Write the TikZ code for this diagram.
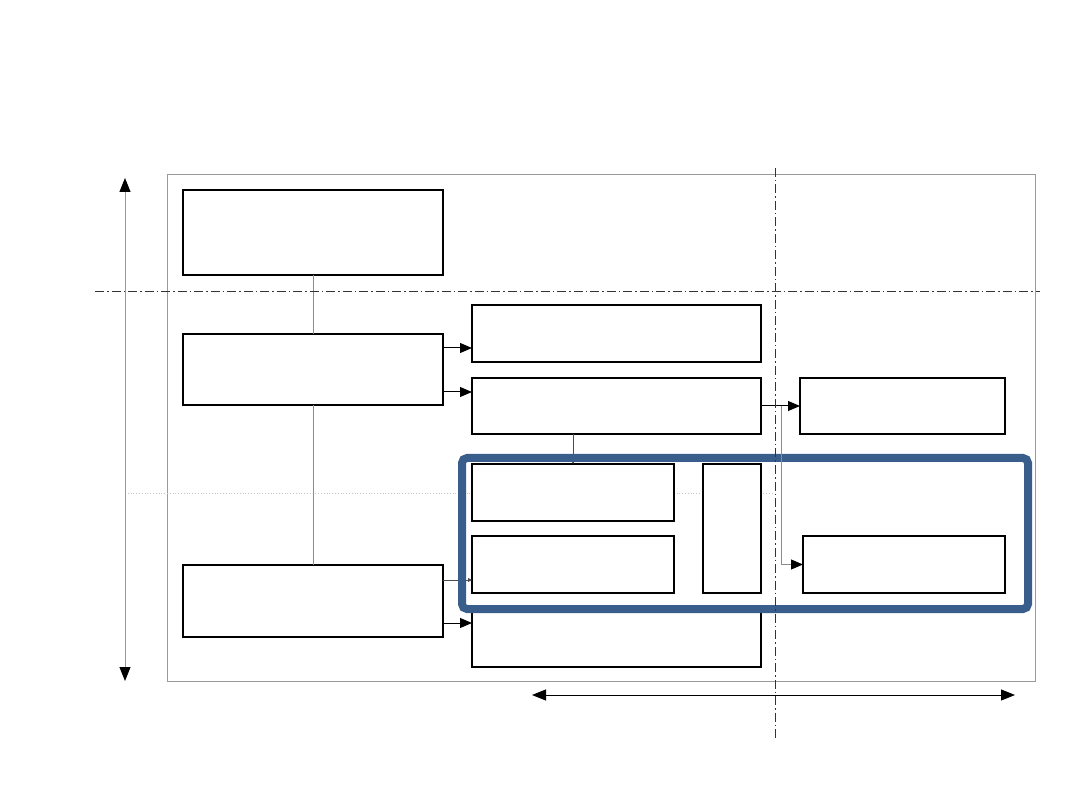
\documentclass[tikz,border=0pt]{standalone}
\usepackage{tikz}
\usetikzlibrary{arrows.meta,calc}
\definecolor{FrameGray}{HTML}{9A9A9A}
\definecolor{LinkGray}{HTML}{8C8C8C}
\definecolor{GuideGray}{HTML}{C8C8C8}
\definecolor{FocusBlue}{HTML}{3A5E8C}
\tikzset{
  block/.style={draw=black,line width=1.3pt,fill=white,inner sep=0pt,outer sep=0pt},
  flowarrow/.style={-{Triangle[length=12pt,width=10pt]},line width=1pt,draw=black},
  tinyarrow/.style={-{Triangle[length=4pt,width=4pt]},line width=0.9pt,draw=black!70},
  axisarrow/.style={{Triangle[length=14pt,width=11pt,black]}-{Triangle[length=14pt,width=11pt,black]},line width=1pt},
  link/.style={draw=LinkGray,line width=1pt},
  divider/.style={draw=black!80,line width=0.9pt,dash pattern=on 9pt off 3pt on 1.5pt off 3pt},
  focus/.style={draw=FocusBlue,line width=8pt,rounded corners=5pt,inner sep=0pt,outer sep=0pt}
}
\begin{document}
\begin{tikzpicture}[x=1pt,y=-1pt]
  \useasboundingbox (0,0) rectangle (1080,810);
  % outer frame and guides
  \draw[draw=FrameGray,line width=1pt] (167,175) rectangle (1035,681);
  \draw[draw=GuideGray,line width=0.8pt,dotted] (125,493) -- (772,493);
  \coordinate (vtop) at (125,178);
  \coordinate (vbot) at (125,681);
  \draw[axisarrow,draw=FrameGray] (vtop) -- (vbot);
  % blocks
  \node[block,minimum width=260pt,minimum height=85pt] (A) at (313,232.5) {};
  \node[block,minimum width=260pt,minimum height=71pt] (B) at (313,369.5) {};
  \node[block,minimum width=260pt,minimum height=72pt] (C) at (313,601) {};
  \node[block,minimum width=289pt,minimum height=57pt] (D) at (616.5,333.5) {};
  \node[block,minimum width=289pt,minimum height=56pt] (E) at (616.5,406) {};
  \node[block,minimum width=205pt,minimum height=56pt] (F) at (902.5,406) {};
  \node[block,minimum width=289pt,minimum height=58pt] (K) at (616.5,638) {};
  \node[block,minimum width=202pt,minimum height=57pt] (G) at (573,492.5) {};
  \node[block,minimum width=202pt,minimum height=57pt] (H) at (573,564.5) {};
  \node[block,minimum width=58pt,minimum height=129pt] (I) at (732,528.5) {};
  \node[block,minimum width=202pt,minimum height=57pt] (J) at (904,564.5) {};
  % connectors
  \draw[link] (A.south) -- (B.north);
  \draw[link] (B.south) -- (C.north);
  \coordinate (b1) at ([yshift=21.5pt]B.east);
  \coordinate (b2) at ([yshift=-22.5pt]B.east);
  \coordinate (c1) at ([yshift=21pt]C.east);
  \coordinate (c2) at ([yshift=-22pt]C.east);
  \draw[flowarrow] (b1) -- (b1 -| D.west);
  \draw[flowarrow] (b2) -- (b2 -| E.west);
  \draw[flowarrow] (c2) -- (c2 -| K.west);
  \draw[tinyarrow] (c1) -- (c1 -| H.west);
  \draw[tinyarrow] (G.north |- E.south) -- (G.north);
  % highlighted group
  \node[focus,minimum width=566pt,minimum height=151pt] (grp) at (745,533.5) {};
  \draw[flowarrow] (E.east) -- (F.west);
  \coordinate (tap) at (781,406);
  \draw[link] (tap) |- ([xshift=-10pt]J.west);
  \draw[flowarrow] ([xshift=-11pt]J.west) -- (J.west);
  % dividers
  \draw[divider] (95,291) -- (1040,291);
  \draw[divider] (775,168) -- (775,740);
  \coordinate (hleft) at (532,695);
  \coordinate (hright) at (1015,695);
  \draw[axisarrow,draw=black] (hleft) -- (hright);
\end{tikzpicture}
\end{document}
